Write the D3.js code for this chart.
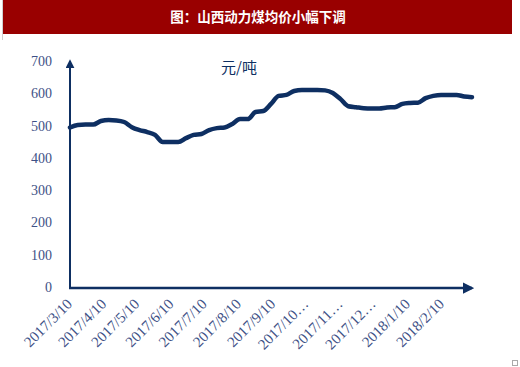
<!DOCTYPE html>
<html><head><meta charset="utf-8">
<script src="https://cdn.jsdelivr.net/npm/d3@7"></script>
<style>body{margin:0;background:#fff}svg{display:block}</style>
</head><body>
<svg id="c" width="520" height="367"></svg>
<script>
const title = "图：山西动力煤均价小幅下调";
const unit = "元/吨";
const startDate = "2017-03-10";
// weekly prices (元/吨) starting 2017/3/10
const values = [494,502,503,503,514,517,516,511,495,486,480,471,449,449,449,461,471,474,486,492,494,505,520,520,542,545,567,592,595,607,610,610,610,609,601,582,560,557,554,553,553,556,557,567,570,571,585,592,595,595,595,590,588];
const tickLabels = ["2017/3/10","2017/4/10","2017/5/10","2017/6/10","2017/7/10","2017/8/10","2017/9/10","2017/10…","2017/11…","2017/12…","2018/1/10","2018/2/10"];
const tickDates = ["2017-03-10","2017-04-10","2017-05-10","2017-06-10","2017-07-10","2017-08-10","2017-09-10","2017-10-10","2017-11-10","2017-12-10","2018-01-10","2018-02-10"];
const yTicks = [0,100,200,300,400,500,600,700];

const svg = d3.select("#c");
const navy = "#0e2f62", txt = "#3e5186";
const parse = d3.utcParse("%Y-%m-%d");
const d0 = parse(startDate);
const dates = values.map((v,i)=>d3.utcDay.offset(d0, 7*i));
const data = values.map((v,i)=>({d:dates[i], v}));

// title bar
svg.append("rect").attr("x",3).attr("y",0).attr("width",509).attr("height",34).attr("fill","#990000");
svg.append("line").attr("x1",2.5).attr("x2",2.5).attr("y1",0).attr("y2",40).attr("stroke","#d0d0d0");
svg.append("text").attr("x",258).attr("y",22).attr("text-anchor","middle").attr("fill","#fff")
  .attr("font-family","Noto Sans CJK SC").attr("font-size",13.5).attr("font-weight","bold").text(title);

const x = d3.scaleUtc().domain([d0, dates[dates.length-1]]).range([70, 472]);
const y = d3.scaleLinear().domain([0,700]).range([287, 61]);

// y tick labels
svg.append("g").selectAll("text").data(yTicks).join("text")
  .attr("x",52).attr("y",d=>y(d)+5).attr("text-anchor","end")
  .attr("font-family","Liberation Serif, DejaVu Serif, serif").attr("font-size",14).attr("fill",txt).text(d=>d);

// x tick labels
svg.append("g").selectAll("text").data(tickLabels).join("text")
  .attr("transform",(d,i)=>`translate(${x(parse(tickDates[i]))+3},${305}) rotate(-45)`)
  .attr("text-anchor","end")
  .attr("font-family","Liberation Serif, DejaVu Serif, serif").attr("font-size",15).attr("fill",txt).text(d=>d);

// axes with arrows
const defs = svg.append("defs");
defs.append("marker").attr("id","arr").attr("viewBox","0 0 10 10").attr("refX",8).attr("refY",5)
  .attr("markerWidth",4.5).attr("markerHeight",4.5).attr("orient","auto-start-reverse")
  .append("path").attr("d","M0,0L10,5L0,10Z").attr("fill",navy);
svg.append("line").attr("x1",70).attr("x2",70).attr("y1",288).attr("y2",61).attr("stroke",navy).attr("stroke-width",2).attr("marker-end","url(#arr)");
svg.append("line").attr("x1",69).attr("x2",472).attr("y1",288).attr("y2",288).attr("stroke",navy).attr("stroke-width",2.5).attr("marker-end","url(#arr)");

// line
svg.append("path").datum(data).attr("fill","none").attr("stroke",navy).attr("stroke-width",4.5)
  .attr("stroke-linejoin","round").attr("stroke-linecap","round")
  .attr("d", d3.line().x(d=>x(d.d)).y(d=>y(d.v)).curve(d3.curveMonotoneX));

// unit label
svg.append("text").attr("x",221).attr("y",73).attr("font-family","Noto Sans CJK SC").attr("font-size",15).attr("fill",navy).text(unit);

// small corner mark
svg.append("rect").attr("x",512.5).attr("y",360.5).attr("width",5).attr("height",5).attr("fill","none").attr("stroke","#aaa");
</script>
</body></html>
